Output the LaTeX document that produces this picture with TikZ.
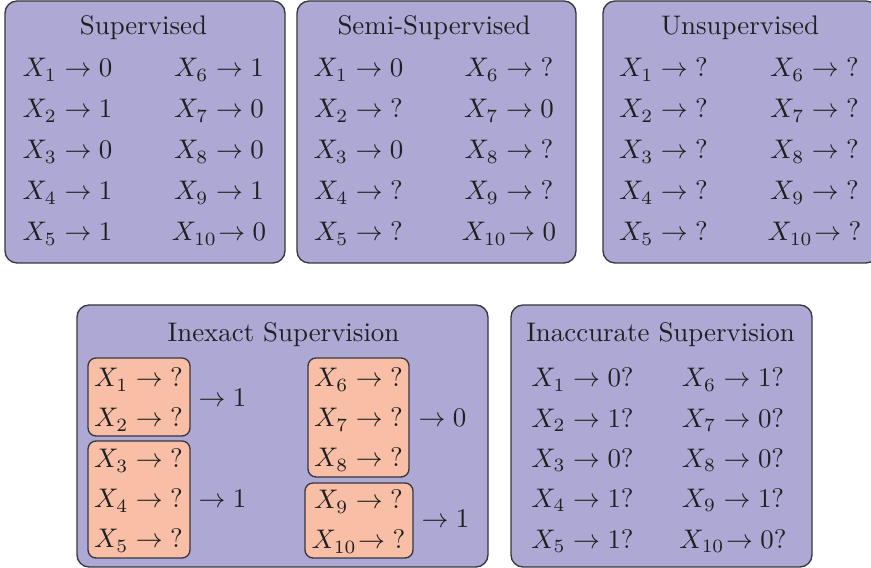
\documentclass[tikz,border=0pt]{standalone}
\definecolor{panelfill}{RGB}{173,169,212}
\definecolor{grpfill}{RGB}{248,190,166}
\definecolor{edgecol}{RGB}{55,55,60}
\tikzset{
  panel/.style={fill=panelfill, draw=edgecol, line width=0.5pt, rounded corners=4.5pt},
  grp/.style={fill=grpfill, draw=edgecol, line width=0.5pt, rounded corners=3pt},
  lbl/.style={anchor=base, inner sep=0pt, text=black!88},
}
\newcommand\myentry[5]{\node[lbl] (#1) at (#2,{#3}) {$X_{#4}\ifnum#4>9 \mkern-4mu\fi\to {#5}$};}
\begin{document}
\begin{tikzpicture}[x=0.372pt,y=-0.372pt]
\useasboundingbox (0,0) rectangle (871,568);
\clip (0,0) rectangle (871,568);
% panels
\draw[panel] (5,1) rectangle (285,263);
\draw[panel] (297,1) rectangle (576,263);
\draw[panel] (603,1) rectangle (878,263);
\draw[panel] (77,305) rectangle (488,567);
\draw[panel] (511,305) rectangle (812,567);
% groups
\draw[grp] (88,358) rectangle (190,436);
\draw[grp] (88,441) rectangle (190,558);
\draw[grp] (308,358) rectangle (409,477);
\draw[grp] (305,483) rectangle (413,558);
% titles
\node[lbl] (tsup) at (143.5,35) {Supervised};
\node[lbl] (tsemi) at (434,35) {Semi-Supervised};
\node[lbl] (tuns) at (740,35) {Unsupervised};
\node[lbl] (tinex) at (283.5,342) {Inexact Supervision};
\node[lbl] (tinac) at (660.5,342) {Inaccurate Supervision};
% supervised
\foreach \i/\v [count=\k from 0] in {1/0,2/1,3/0,4/1,5/1}
  {\myentry{s\i}{67.5}{77+41*\k}{\i}{\v}}
\foreach \i/\v [count=\k from 0] in {6/1,7/0,8/0,9/1,10/0}
  {\myentry{s\i}{219}{77+41*\k}{\i}{\v}}
% semi-supervised
\foreach \i/\v [count=\k from 0] in {1/0,2/?,3/0,4/?,5/?}
  {\myentry{m\i}{358.5}{77+41*\k}{\i}{\v}}
\foreach \i/\v [count=\k from 0] in {6/?,7/0,8/?,9/?,10/0}
  {\myentry{m\i}{509}{77+41*\k}{\i}{\v}}
% unsupervised
\foreach \i [count=\k from 0] in {1,2,3,4,5}
  {\myentry{u\i}{663.5}{77+41*\k}{\i}{?}}
\foreach \i [count=\k from 0] in {6,7,8,9,10}
  {\myentry{u\i}{814.5}{77+41*\k}{\i}{?}}
% inexact
\foreach \i/\yy in {1/387,2/427,3/468,4/508,5/548}
  {\myentry{e\i}{138.5}{\yy}{\i}{?}}
\foreach \i/\yy in {6/387,7/427,8/467,9/509,10/549}
  {\myentry{e\i}{358.5}{\yy}{\i}{?}}
\node[lbl] (ga) at (222.5,407) {$\to 1$};
\node[lbl] (gb) at (222.5,508) {$\to 1$};
\node[lbl] (gc) at (442.5,427) {$\to 0$};
\node[lbl] (gd) at (445.5,528) {$\to 1$};
% inaccurate
\foreach \i/\v [count=\k from 0] in {1/0?,2/1?,3/0?,4/1?,5/1?}
  {\myentry{c\i}{582.5}{387+40.3*\k}{\i}{\v}}
\foreach \i/\v [count=\k from 0] in {6/1?,7/0?,8/0?,9/1?,10/0?}
  {\myentry{c\i}{733}{387+40.3*\k}{\i}{\v}}
\end{tikzpicture}
\end{document}
